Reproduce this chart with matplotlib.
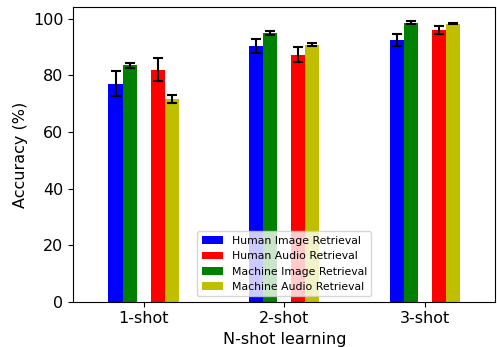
import matplotlib
matplotlib.use("Agg")
import matplotlib.pyplot as plt
import numpy as np

groups = ["1-shot", "2-shot", "3-shot"]
series = ["Human Image Retrieval", "Human Audio Retrieval",
          "Machine Image Retrieval", "Machine Audio Retrieval"]
human_image = [77.0, 90.5, 92.6]
human_image_err = [4.4, 2.4, 2.2]
human_audio = [82.0, 87.3, 96.1]
human_audio_err = [4.1, 2.6, 1.5]
machine_image = [83.6, 95.1, 98.6]
machine_image_err = [0.9, 0.7, 0.5]
machine_audio = [71.7, 90.8, 98.3]
machine_audio_err = [1.3, 0.5, 0.2]

colors = ["blue", "red", "green", "y"]
offsets = [-0.2, 0.1, -0.1, 0.2]
width = 0.1

fig = plt.figure(figsize=(4.97, 3.47), dpi=100)
ax = fig.add_axes([0.1475, 0.1305, 0.8491, 0.8485])
x = np.arange(len(groups))
data = [(human_image, human_image_err), (human_audio, human_audio_err),
        (machine_image, machine_image_err), (machine_audio, machine_audio_err)]
for (vals, errs), name, c, off in zip(data, series, colors, offsets):
    ax.bar(x + off, vals, width, yerr=errs, color=c, label=name,
           error_kw=dict(ecolor="black", elinewidth=1.5, capsize=3.3, capthick=1.5))

ax.set_xticks(x)
ax.set_xticklabels(groups, fontsize=11.5)
ax.tick_params(axis="y", labelsize=11.5)
ax.set_xlim(-0.5, 2.5)
ax.set_ylim(0, 104.1)
ax.set_yticks([0, 20, 40, 60, 80, 100])
ax.set_xlabel("N-shot learning", fontsize=11.5)
ax.set_ylabel("Accuracy (%)", fontsize=11.5)
ax.legend(loc="lower center", fontsize=7.8)
fig.savefig("out.png", dpi=100)
